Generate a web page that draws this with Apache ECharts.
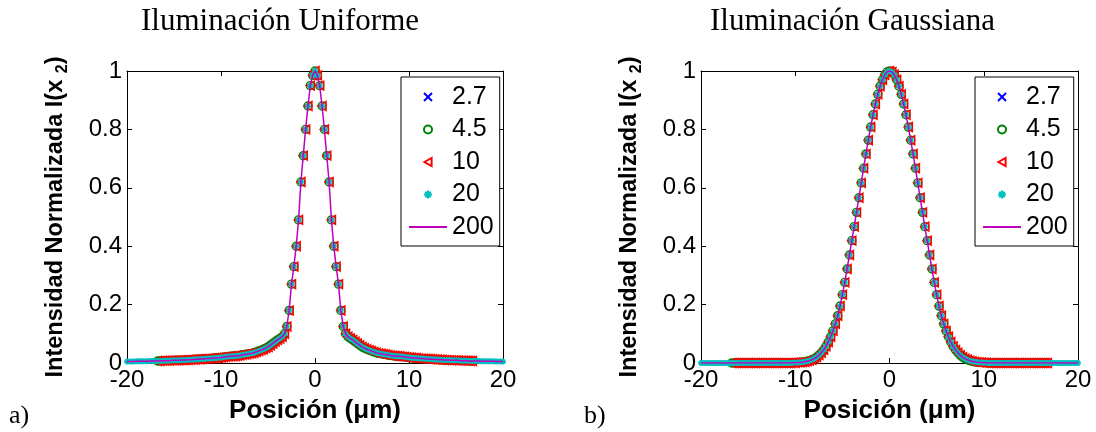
<!DOCTYPE html>
<html>
<head>
<meta charset="utf-8">
<script src="https://cdn.jsdelivr.net/npm/echarts@6/dist/echarts.min.js"></script>
<style>
html,body{margin:0;padding:0;background:#fff;}
#chart{width:1096px;height:432px;}
</style>
</head>
<body>
<div id="chart"></div>
<script>
// Sampling positions (µm)
const positions = [-20,-19.75,-19.5,-19.25,-19,-18.75,-18.5,-18.25,-18,-17.75,-17.5,-17.25,-17,-16.75,-16.5,-16.25,-16,-15.75,-15.5,-15.25,-15,-14.75,-14.5,-14.25,-14,-13.75,-13.5,-13.25,-13,-12.75,-12.5,-12.25,-12,-11.75,-11.5,-11.25,-11,-10.75,-10.5,-10.25,-10,-9.75,-9.5,-9.25,-9,-8.75,-8.5,-8.25,-8,-7.75,-7.5,-7.25,-7,-6.75,-6.5,-6.25,-6,-5.75,-5.5,-5.25,-5,-4.75,-4.5,-4.25,-4,-3.75,-3.5,-3.25,-3,-2.75,-2.5,-2.25,-2,-1.75,-1.5,-1.25,-1,-0.75,-0.5,-0.25,0,0.25,0.5,0.75,1,1.25,1.5,1.75,2,2.25,2.5,2.75,3,3.25,3.5,3.75,4,4.25,4.5,4.75,5,5.25,5.5,5.75,6,6.25,6.5,6.75,7,7.25,7.5,7.75,8,8.25,8.5,8.75,9,9.25,9.5,9.75,10,10.25,10.5,10.75,11,11.25,11.5,11.75,12,12.25,12.5,12.75,13,13.25,13.5,13.75,14,14.25,14.5,14.75,15,15.25,15.5,15.75,16,16.25,16.5,16.75,17,17.25,17.5,17.75,18,18.25,18.5,18.75,19,19.25,19.5,19.75,20];

// a) Iluminación Uniforme — normalized intensity
const uniformProfile = [0.005,0.005,0.005,0.005,0.006,0.006,0.006,0.006,0.006,0.006,0.007,
0.007,0.007,0.007,0.007,0.008,0.008,0.008,0.008,0.009,0.009,
0.009,0.009,0.010,0.010,0.010,0.011,0.011,0.012,0.012,0.013,
0.013,0.014,0.014,0.015,0.015,0.016,0.017,0.017,0.018,0.019,
0.020,0.021,0.022,0.023,0.023,0.024,0.025,0.026,0.028,0.029,
0.030,0.032,0.033,0.035,0.038,0.041,0.044,0.047,0.051,0.055,
0.061,0.067,0.073,0.079,0.084,0.090,0.100,0.125,0.180,0.270,
0.330,0.400,0.490,0.620,0.710,0.800,0.880,0.950,0.985,
1.000,
0.985,0.950,0.880,0.800,0.710,0.620,0.490,0.400,0.330,
0.270,0.180,0.125,0.100,0.090,0.084,0.079,0.073,0.067,0.061,
0.055,0.051,0.047,0.044,0.041,0.038,0.035,0.033,0.032,0.030,
0.029,0.028,0.026,0.025,0.024,0.023,0.023,0.022,0.021,0.020,
0.019,0.018,0.017,0.017,0.016,0.015,0.015,0.014,0.014,0.013,
0.013,0.012,0.012,0.011,0.011,0.010,0.010,0.010,0.009,0.009,
0.009,0.009,0.008,0.008,0.008,0.008,0.007,0.007,0.007,0.007,
0.007,0.006,0.006,0.006,0.006,0.006,0.006,0.005,0.005,0.005,0.005];

// b) Iluminación Gaussiana — normalized intensity
const gaussianProfile = [0,0,0,0,0,0,0,0,0,0,
0,0,0,0,0,0,0,0,0,0,
0,0,0,0,0,0,0,0,0,0,
0,0,0,0,0,0,0,0,0,
0.001,0.001,0.002,0.002,0.003,0.004,0.006,0.008,0.011,0.015,0.020,0.027,0.035,0.045,0.057,0.072,0.090,0.110,0.134,0.162,0.195,0.234,0.276,0.322,0.370,0.419,0.467,0.516,0.566,0.617,0.667,0.716,0.763,0.808,0.850,0.887,0.920,0.948,0.970,0.987,0.997,
1.000,
0.997,0.987,0.970,0.948,0.920,0.887,0.850,0.808,0.763,0.716,0.667,0.617,0.566,0.516,0.467,0.419,0.370,0.322,0.276,0.234,0.195,0.162,0.134,0.110,0.090,0.072,0.057,0.045,0.035,0.027,0.020,0.015,0.011,0.008,0.006,0.004,0.003,0.002,0.002,0.001,0.001,
0,0,0,0,0,0,0,0,0,0,
0,0,0,0,0,0,0,0,0,0,
0,0,0,0,0,0,0,0,0,0,
0,0,0,0,0,0,0,0,0];

const seriesNames = ['2.7','4.5','10','20','200'];
const innerExtent = 16.75;   // extent of the "2.7", "4.5" and "10" samples (µm)
const xTicks = [-20, 20, 10];  // min, max, interval
const yTicks = [0, 1, 0.2];
const titles = ['Iluminación Uniforme','Iluminación Gaussiana'];
const panelLabels = ['a)','b)'];
const xName = 'Posición (μm)';
const yName = 'Intensidad Normalizada I(x {s|2})';

const SANS = 'Liberation Sans, Arial, sans-serif';
const SERIF = 'Liberation Serif, Times New Roman, serif';

const grids = [
  {left:127, top:71, width:376, height:292},
  {left:701, top:71, width:377, height:292}
];

function pairs(profile, filter){
  const out = [];
  for (let i = 0; i < positions.length; i++) {
    if (!filter || filter(positions[i])) out.push([positions[i], profile[i]]);
  }
  return out;
}
const inner = x => Math.abs(x) <= innerExtent;

const xMark = 'path://M0,0L10,10M10,0L0,10';
const starMark = 'path://M5,0L5,10M0,5L10,5M1.6,1.6L8.4,8.4M8.4,1.6L1.6,8.4';
const leftTri = 'path://M0,5L9,0L9,10Z';

function panelSeries(g, profile){
  const base = {xAxisIndex: g*2, yAxisIndex: g*2, animation:false, silent:true, symbolKeepAspect:true};
  return [
    Object.assign({}, base, {name:seriesNames[0], type:'scatter', data:pairs(profile, inner),
      symbol:xMark, symbolSize:4,
      itemStyle:{color:'transparent', borderColor:'#0000ff', borderWidth:1.2, opacity:1}}),
    Object.assign({}, base, {name:seriesNames[1], type:'scatter', data:pairs(profile, inner),
      symbol:'circle', symbolSize:8,
      itemStyle:{color:'transparent', borderColor:'#008000', borderWidth:1.4, opacity:1}}),
    Object.assign({}, base, {name:seriesNames[2], type:'scatter', data:pairs(profile, inner),
      symbol:leftTri, symbolSize:9,
      itemStyle:{color:'transparent', borderColor:'#ff0000', borderWidth:1.4, opacity:1}}),
    Object.assign({}, base, {name:seriesNames[3], type:'scatter', data:pairs(profile),
      symbol:starMark, symbolSize:6,
      itemStyle:{color:'transparent', borderColor:'#00bfbf', borderWidth:1.7, opacity:1}}),
    Object.assign({}, base, {name:seriesNames[4], type:'line', data:pairs(profile),
      symbol:'none', showSymbol:false, smooth:false,
      lineStyle:{color:'#bf00bf', width:1.5}, itemStyle:{color:'transparent', borderWidth:0}})
  ];
}

const xAxes = [], yAxes = [];
grids.forEach((gr, g) => {
  xAxes.push({
    gridIndex:g, type:'value', min:xTicks[0], max:xTicks[1], interval:xTicks[2],
    position:'bottom',
    axisLine:{onZero:false, lineStyle:{color:'#000', width:1}},
    axisTick:{inside:true, length:5, lineStyle:{color:'#000'}},
    splitLine:{show:false},
    axisLabel:{color:'#000', fontSize:24, fontFamily:SANS, margin:5},
    name:xName, nameLocation:'middle', nameGap:35,
    nameTextStyle:{color:'#000', fontSize:26, fontWeight:'bold', fontFamily:SANS}
  });
  xAxes.push({
    gridIndex:g, type:'value', min:xTicks[0], max:xTicks[1], interval:xTicks[2],
    position:'top',
    axisLine:{onZero:false, lineStyle:{color:'#000', width:1}},
    axisTick:{inside:true, length:5, lineStyle:{color:'#000'}},
    splitLine:{show:false}, axisLabel:{show:false}
  });
  yAxes.push({
    gridIndex:g, type:'value', min:yTicks[0], max:yTicks[1], interval:yTicks[2],
    position:'left',
    axisLine:{show:true, onZero:false, lineStyle:{color:'#000', width:1}},
    axisTick:{show:true, inside:true, length:5, lineStyle:{color:'#000'}},
    splitLine:{show:false},
    axisLabel:{color:'#000', fontSize:24, fontFamily:SANS, margin:5},
    name:yName, nameLocation:'middle', nameGap:56,
    nameTextStyle:{color:'#000', fontSize:23.5, fontWeight:'bold', fontFamily:SANS, lineHeight:30,
      rich:{s:{fontSize:16, fontWeight:'bold', fontFamily:SANS, color:'#000', verticalAlign:'bottom', lineHeight:18}}}
  });
  yAxes.push({
    gridIndex:g, type:'value', min:yTicks[0], max:yTicks[1], interval:yTicks[2],
    position:'right',
    axisLine:{show:true, onZero:false, lineStyle:{color:'#000', width:1}},
    axisTick:{show:true, inside:true, length:5, lineStyle:{color:'#000'}},
    splitLine:{show:false}, axisLabel:{show:false}
  });
});

const legends = [401, 975].map(lx => ({
  data: seriesNames.slice(), orient:'vertical', left:lx, top:77,
  itemWidth:38, itemHeight:8, itemGap:6.5,
  padding:[7,6,6,7],
  backgroundColor:'#fff', borderColor:'#000', borderWidth:1,
  selectedMode:false,
  textStyle:{color:'#000', fontSize:25, fontFamily:SANS, lineHeight:26}
}));

const option = {
  backgroundColor:'#fff',
  animation:false,
  title:[
    {text:titles[0], left:141, top:6, padding:0, textStyle:{fontFamily:SERIF, fontSize:31, fontWeight:'normal', color:'#000'}},
    {text:titles[1], left:710, top:6, padding:0, textStyle:{fontFamily:SERIF, fontSize:31, fontWeight:'normal', color:'#000'}},
    {text:panelLabels[0], left:9, top:403, padding:0, textStyle:{fontFamily:SERIF, fontSize:26, fontWeight:'normal', color:'#000'}},
    {text:panelLabels[1], left:584, top:403, padding:0, textStyle:{fontFamily:SERIF, fontSize:26, fontWeight:'normal', color:'#000'}}
  ],
  grid: grids,
  xAxis: xAxes,
  yAxis: yAxes,
  legend: legends,
  series: panelSeries(0, uniformProfile).concat(panelSeries(1, gaussianProfile))
};

const chart = echarts.init(document.getElementById('chart'), null, {renderer:'canvas'});
chart.setOption(option);
</script>
</body>
</html>
